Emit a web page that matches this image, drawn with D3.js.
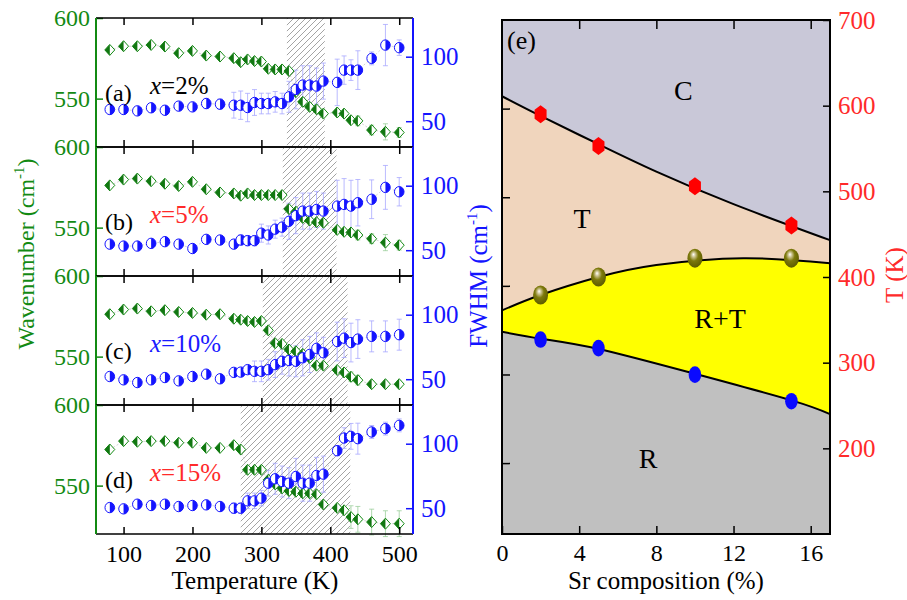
<!DOCTYPE html>
<html lang="en">
<head>
<meta charset="utf-8">
<title>Raman modes and phase diagram</title>
<script src="https://d3js.org/d3.v7.min.js"></script>
<style>
  body { margin: 0; background: #fff; }
</style>
</head>
<body>
<div id="chart"></div>
<script>

// ---- data ----
const temps = [80,100,120,140,160,180,200,220,240,260,270,280,290,300,310,320,330,340,350,360,370,380,390,410,420,430,440,460,480,500];

const wnA = [580.2,582.5,582.5,583.3,582.3,578.2,579.6,576.7,576.1,575.1,572.6,574.3,573.3,573.0,568.5,568.1,568.1,567.1,554.0,548.0,544.9,543.4,540.7,541.4,540.7,536.6,536.2,530.5,529.4,529.0];
const fwA = [59.1,59.1,58.0,60.4,58.5,61.7,61.1,63.7,63.2,62.4,62.4,60.6,64.5,63.7,63.7,65.0,63.7,68.9,74.6,78.0,78.0,77.2,81.1,80.1,89.6,89.6,89.6,98.7,109,107];
const fwErrA = [0,0,0,0,0,0,2,4,4,10,11,11,10,8,8,8,8,12,15,15,15,14,14,18,11,8,15,5,16,6];
const wnErrA = [0,0,0,0,0,0,0,0,0,0,0,0,0,0,0,0,0,0,0,0,0,0,0,0,0,0,3,3,5,3];

const wnB = [576.2,579.8,580.4,578.8,577.2,575.8,578.4,573.8,571.8,571.2,569.8,571.2,570.2,570.2,570.2,570.2,570.2,561.5,559.9,556.0,554.4,553.4,553.0,548.6,547.4,547.0,545.4,543.1,540.7,539.1];
const fwB = [54.7,53.2,53.2,55.3,56.6,54.7,51.3,58.4,57.9,54.7,57.9,57.4,57.4,63.2,61.8,66.3,67.9,72.4,76.8,80.3,80.3,81.6,80.3,84.2,85.5,84.2,86.8,89.5,98.7,95.3];
const fwErrB = [0,0,0,0,0,0,0,0,0,3,4,4,4,7,7,7,7,14,14,14,14,14,14,20,20,20,18,15,17,11];
const wnErrB = [0,0,0,0,0,0,0,0,0,0,0,0,0,0,0,0,0,0,0,0,0,0,0,0,0,0,3,3,5,3];

const wnC = [576.3,579.2,579.8,578.1,578.8,577.7,577.1,576.0,576.3,573.5,572.9,572.1,571.5,572.1,566.3,558.3,557.9,554.4,553.3,551.7,549.2,544.4,544.4,541.7,540.2,537.5,535.4,532.9,532.9,532.9];
const fwC = [52.1,49.5,47.4,49.5,51.3,48.7,52.1,53.9,50.3,55.3,55.5,57.4,56.1,56.1,57.4,61.3,63.9,64.5,63.9,66.6,69.2,73.9,70.5,79.2,81.8,78.4,81.1,83.2,83.2,84.5];
const fwErrC = [0,0,0,0,0,0,0,0,0,2,2,3,8,8,8,10,10,12,12,14,14,12,12,15,15,15,15,12,12,12];
const wnErrC = [0,0,0,0,0,0,0,0,0,0,0,0,0,0,0,0,0,0,0,0,0,0,0,0,0,3,3,2,2,2];

const wnD = [572.4,577.6,577.2,577.6,577.6,576.6,576.6,573.4,573.4,575.1,572.4,559.8,559.8,559.8,553.6,550.8,548.3,546.7,546.2,545.2,545.2,544.6,538.3,536.2,534.7,530.5,529.1,527.4,526.4,526.4];
const fwD = [50.5,49.5,53.1,52.1,53.1,51.3,52.1,52.6,51.3,50.0,50.0,55.7,55.7,57.8,69.4,72.8,70.7,69.4,74.6,69.4,69.4,75.4,76.4,94.6,104.4,105.7,103.9,109.1,111.7,114.2];
const fwErrD = [0,0,0,0,0,0,0,3,0,4,4,6,6,6,10,12,12,12,14,14,14,14,14,4,8,10,12,5,5,5];
const wnErrD = [0,0,0,0,0,0,0,0,0,0,0,0,0,0,0,0,0,0,0,0,0,0,0,0,0,7,8,8,8,8];

// shaded transition windows (K)
const hatchA = [337, 392];
const hatchB = [331, 409];
const hatchC = [302, 425];
const hatchD = [270, 429];

const panelLabels = ["(a)", "(b)", "(c)", "(d)"];
const compLabels = ["=2%", "=5%", "=10%", "=15%"];
const compColors = ["#000000", "#ff2a2a", "#1a1aff", "#ff2a2a"];

const tempTicks = [100, 200, 300, 400, 500];
const wnTicks = [550, 600];
const fwTicks = [50, 100];

// phase diagram
const srX = [2, 5, 10, 15];
const tCubic = [590, 553, 506, 460];
const tTetra = [379, 400, 422, 422];
const tRhombo = [327, 317, 286, 255];
// boundary lines (points along the drawn curves)
const lineCT = [[0, 611], [2, 588], [5, 555], [8, 523], [12, 485], [17, 443]];
const lineTR = [[0, 361], [2, 379], [5, 400], [8, 414], [12.5, 422], [17, 416]];
const lineR = [[0, 336], [2, 328], [5, 316], [10, 287], [15, 256], [17, 240]];
const srTicks = [0, 4, 8, 12, 16];
const kTicks = [200, 300, 400, 500, 600, 700];
const phaseNames = [{t: "C", x: 9.4, y: 618}, {t: "T", x: 4.15, y: 469}, {t: "R+T", x: 11.3, y: 352}, {t: "R", x: 7.57, y: 189}];

// ---- drawing ----
const FONT = "'Liberation Serif', 'DejaVu Serif', 'Times New Roman', Times, serif";
const green = "#138a13", darkGreen = "#117711", blue = "#1414ff", red = "#ff2a2a";

const svg = d3.select("#chart").append("svg")
    .attr("width", 907).attr("height", 600)
    .style("font-family", FONT);

const defs = svg.append("defs");
const pat = defs.append("pattern")
    .attr("id", "hatch").attr("patternUnits", "userSpaceOnUse")
    .attr("width", 6).attr("height", 6);
pat.append("path")
    .attr("d", "M0,6 L6,0 M-1,1 L1,-1 M5,7 L7,5")
    .attr("stroke", "#666").attr("stroke-width", 0.6);

const grad = defs.append("radialGradient")
    .attr("id", "olive").attr("cx", "45%").attr("cy", "40%").attr("r", "60%")
    .attr("fx", "40%").attr("fy", "30%");
grad.append("stop").attr("offset", "0%").attr("stop-color", "#ffffff");
grad.append("stop").attr("offset", "22%").attr("stop-color", "#c9c08a");
grad.append("stop").attr("offset", "50%").attr("stop-color", "#7d7a0c");
grad.append("stop").attr("offset", "100%").attr("stop-color", "#5e5c00");

const x = d3.scaleLinear().domain([60, 520]).range([96, 413]);
const ph = 129;

const panels = [
  {wn: wnA, fw: fwA, fwErr: fwErrA, wnErr: wnErrA, hatch: hatchA},
  {wn: wnB, fw: fwB, fwErr: fwErrB, wnErr: wnErrB, hatch: hatchB},
  {wn: wnC, fw: fwC, fwErr: fwErrC, wnErr: wnErrC, hatch: hatchC},
  {wn: wnD, fw: fwD, fwErr: fwErrD, wnErr: wnErrD, hatch: hatchD}
];

function styleAxis(g, color, size) {
  g.attr("font-family", null);
  g.select(".domain").remove();
  g.selectAll(".tick line").attr("stroke", color).attr("stroke-width", 1.5);
  g.selectAll(".tick text").attr("fill", color).style("font-size", size + "px");
}

panels.forEach(function(p, i) {
  const top = 18 + i * ph, bottom = top + ph;
  const yW = d3.scaleLinear().domain([520, 600]).range([bottom, top]);
  const yF = d3.scaleLinear().domain([30, 130]).range([bottom, top]);
  const g = svg.append("g");

  g.append("rect")
      .attr("x", x(p.hatch[0])).attr("y", top)
      .attr("width", x(p.hatch[1]) - x(p.hatch[0])).attr("height", ph)
      .attr("fill", "url(#hatch)");

  // faint connecting lines
  const wnPts = temps.map((t, k) => [t, p.wn[k]]);
  const fwPts = temps.map((t, k) => [t, p.fw[k]]);
  g.append("path").datum(wnPts)
      .attr("d", d3.line().x(d => x(d[0])).y(d => yW(d[1])))
      .attr("fill", "none").attr("stroke", "#b5b5b5").attr("stroke-width", 0.6)
      .attr("stroke-dasharray", "2,2");
  g.append("path").datum(fwPts)
      .attr("d", d3.line().x(d => x(d[0])).y(d => yF(d[1])))
      .attr("fill", "none").attr("stroke", "#b5b5b5").attr("stroke-width", 0.6)
      .attr("stroke-dasharray", "2,2");

  // error bars
  function errBars(vals, errs, yS, color) {
    const eg = g.append("g").attr("stroke", color).attr("stroke-width", 0.8);
    temps.forEach(function(t, k) {
      if (!errs[k]) return;
      const cx = x(t), y0 = yS(vals[k] - errs[k]), y1 = yS(vals[k] + errs[k]);
      eg.append("line").attr("x1", cx).attr("x2", cx).attr("y1", y0).attr("y2", y1);
      eg.append("line").attr("x1", cx - 2.5).attr("x2", cx + 2.5).attr("y1", y0).attr("y2", y0);
      eg.append("line").attr("x1", cx - 2.5).attr("x2", cx + 2.5).attr("y1", y1).attr("y2", y1);
    });
  }
  errBars(p.fw, p.fwErr, yF, "#a8a8ff");
  errBars(p.wn, p.wnErr, yW, "#9ccf9c");

  // half-filled diamonds
  const w = 5, h = 5.5;
  const dg = g.append("g");
  temps.forEach(function(t, k) {
    const cx = x(t), cy = yW(p.wn[k]);
    dg.append("path")
        .attr("d", `M${cx},${cy - h}L${cx + w},${cy}L${cx},${cy + h}L${cx - w},${cy}Z`)
        .attr("fill", "#fff").attr("stroke", green).attr("stroke-width", 1);
    dg.append("path")
        .attr("d", `M${cx},${cy - h}L${cx - w},${cy}L${cx},${cy + h}Z`)
        .attr("fill", darkGreen);
  });

  // half-filled circles
  const rx = 4.8, ry = 5.2;
  const cg = g.append("g");
  temps.forEach(function(t, k) {
    const cx = x(t), cy = yF(p.fw[k]);
    cg.append("ellipse").attr("cx", cx).attr("cy", cy).attr("rx", rx).attr("ry", ry)
        .attr("fill", "#fff").attr("stroke", blue).attr("stroke-width", 1);
    cg.append("path")
        .attr("d", `M${cx},${cy - ry}A${rx},${ry} 0 0 1 ${cx},${cy + ry}Z`)
        .attr("fill", blue);
  });

  // axes (ticks point inward)
  const ax = g.append("g").attr("transform", `translate(0,${bottom})`)
      .call(d3.axisBottom(x).tickValues(tempTicks).tickSize(-7).tickPadding(11));
  styleAxis(ax, "#000", 24);
  if (i < 3) ax.selectAll(".tick text").remove();
  const axT = g.append("g").attr("transform", `translate(0,${top})`)
      .call(d3.axisTop(x).tickValues(tempTicks).tickSize(-7).tickFormat(""));
  styleAxis(axT, "#000", 24);

  const ayL = g.append("g").attr("transform", `translate(${x.range()[0]},0)`)
      .call(d3.axisLeft(yW).tickValues(wnTicks).tickSize(-7).tickPadding(6));
  styleAxis(ayL, green, 24);
  const ayR = g.append("g").attr("transform", `translate(${x.range()[1]},0)`)
      .call(d3.axisRight(yF).tickValues(fwTicks).tickSize(-7).tickPadding(8));
  styleAxis(ayR, blue, 25);

  // frame
  g.append("line").attr("x1", x.range()[0]).attr("x2", x.range()[1]).attr("y1", top).attr("y2", top)
      .attr("stroke", "#000").attr("stroke-width", 1.6);
  g.append("line").attr("x1", x.range()[0]).attr("x2", x.range()[1]).attr("y1", bottom).attr("y2", bottom)
      .attr("stroke", "#000").attr("stroke-width", 1.6);
  g.append("line").attr("x1", x.range()[0]).attr("x2", x.range()[0]).attr("y1", top).attr("y2", bottom)
      .attr("stroke", green).attr("stroke-width", 2);
  g.append("line").attr("x1", x.range()[1]).attr("x2", x.range()[1]).attr("y1", top).attr("y2", bottom)
      .attr("stroke", blue).attr("stroke-width", 2);

  // labels
  g.append("text").attr("x", 105).attr("y", top + 83)
      .style("font-size", "24px").text(panelLabels[i]);
  const ct = g.append("text").attr("x", 150).attr("y", top + 76)
      .style("font-size", "25px").attr("fill", compColors[i]);
  ct.append("tspan").style("font-style", "italic").text("x");
  ct.append("tspan").text(compLabels[i]);
});

// left column axis titles
svg.append("text")
    .attr("transform", "translate(34,254) rotate(-90)")
    .attr("text-anchor", "middle").attr("fill", green).style("font-size", "24px")
    .call(t => {
      t.append("tspan").text("Wavenumber (cm");
      t.append("tspan").attr("dy", -10).style("font-size", "15px").text("-1");
      t.append("tspan").attr("dy", 10).text(")");
    });
svg.append("text")
    .attr("transform", "translate(487,276) rotate(-90)")
    .attr("text-anchor", "middle").attr("fill", blue).style("font-size", "25px")
    .call(t => {
      t.append("tspan").text("FWHM (cm");
      t.append("tspan").attr("dy", -10).style("font-size", "15px").text("-1");
      t.append("tspan").attr("dy", 10).text(")");
    });
svg.append("text")
    .attr("x", 255).attr("y", 589)
    .attr("text-anchor", "middle").style("font-size", "25px").text("Temperature (K)");

// ---- phase diagram (e) ----
const xs = d3.scaleLinear().domain([0, 17]).range([502, 830]);
const yk = d3.scaleLinear().domain([100, 700]).range([534, 20]);
const yl = d3.scaleLinear().domain([0.2, 6.0]).range([534, 20]);
const pe = svg.append("g");

pe.append("rect").attr("x", xs(0)).attr("y", yk(700))
    .attr("width", xs(17) - xs(0)).attr("height", yk(100) - yk(700))
    .attr("fill", "#c9c8d8");
const fillUnder = (pts, color) => pe.append("path").datum(pts)
    .attr("d", d3.area().curve(d3.curveNatural).x(d => xs(d[0])).y0(yk(100)).y1(d => yk(d[1])))
    .attr("fill", color);
fillUnder(lineCT, "#f0d5bd");
fillUnder(lineTR, "#ffff00");
fillUnder(lineR, "#c0c0c0");

[lineCT, lineTR, lineR].forEach(pts => pe.append("path").datum(pts)
    .attr("d", d3.line().curve(d3.curveNatural).x(d => xs(d[0])).y(d => yk(d[1])))
    .attr("fill", "none").attr("stroke", "#000").attr("stroke-width", 2));

// markers
srX.forEach(function(s, k) {
  const cx = xs(s), cy = yk(tCubic[k]);
  pe.append("path")
      .attr("d", `M${cx},${cy - 9}L${cx + 6},${cy - 4.5}L${cx + 6},${cy + 4.5}L${cx},${cy + 9}L${cx - 6},${cy + 4.5}L${cx - 6},${cy - 4.5}Z`)
      .attr("fill", "#ff0000");
  pe.append("ellipse").attr("cx", cx).attr("cy", yk(tTetra[k])).attr("rx", 7.5).attr("ry", 9.5)
      .attr("fill", "url(#olive)");
  pe.append("ellipse").attr("cx", cx).attr("cy", yk(tRhombo[k])).attr("rx", 6.3).attr("ry", 8.3)
      .attr("fill", "#0a0aff");
});

phaseNames.forEach(d => pe.append("text")
    .attr("x", xs(d.x)).attr("y", yk(d.y)).attr("dy", "0.35em")
    .attr("text-anchor", "middle").style("font-size", "28px").text(d.t));
pe.append("text").attr("x", 507).attr("y", 49).style("font-size", "26px").text("(e)");

const sb = pe.append("g").attr("transform", `translate(0,${yk(100)})`)
    .call(d3.axisBottom(xs).tickValues(srTicks).tickSize(-8).tickPadding(10));
styleAxis(sb, "#000", 24);
const st = pe.append("g").attr("transform", `translate(0,${yk(700)})`)
    .call(d3.axisTop(xs).tickValues(srTicks.slice(1)).tickSize(-9).tickFormat(""));
styleAxis(st, "#000", 24);
const sl = pe.append("g").attr("transform", `translate(${xs(0)},0)`)
    .call(d3.axisLeft(yl).tickValues([1, 2, 3, 4, 5]).tickSize(-8).tickFormat(""));
styleAxis(sl, "#000", 24);
const sr = pe.append("g").attr("transform", `translate(${xs(17)},0)`)
    .call(d3.axisRight(yk).tickValues(kTicks).tickSize(-7).tickPadding(8));
styleAxis(sr, red, 25);
sr.selectAll(".tick line").attr("stroke", "#000");

pe.append("rect").attr("x", xs(0)).attr("y", yk(700))
    .attr("width", xs(17) - xs(0)).attr("height", yk(100) - yk(700))
    .attr("fill", "none").attr("stroke", "#000").attr("stroke-width", 2);

pe.append("text").attr("x", 666).attr("y", 589)
    .attr("text-anchor", "middle").style("font-size", "25px").text("Sr composition (%)");
pe.append("text")
    .attr("transform", "translate(894,275) rotate(-90)")
    .attr("text-anchor", "middle").attr("dy", "0.35em")
    .attr("fill", red).style("font-size", "25px").text("T (K)");

// make sure every label uses the serif face
svg.selectAll("text").style("font-family", FONT);

</script>
</body>
</html>
